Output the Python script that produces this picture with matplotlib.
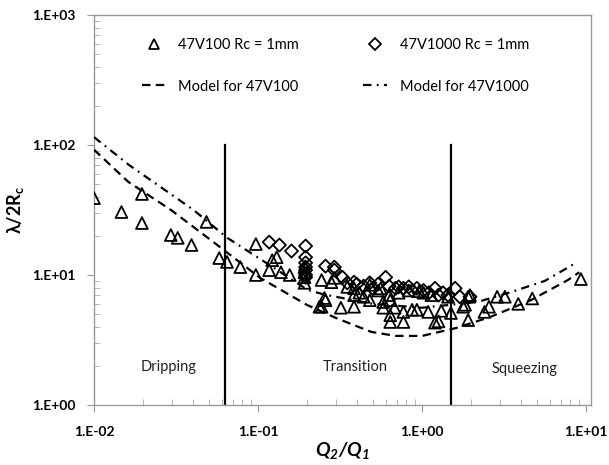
import math
import matplotlib
matplotlib.use("Agg")
import matplotlib.pyplot as plt
from matplotlib.lines import Line2D
from matplotlib.ticker import LogLocator, FuncFormatter, NullFormatter

plt.rcParams['font.family'] = ['Lato', 'DejaVu Sans']

# 47V100 Rc = 1mm (triangles)
v100_x = [0.01, 0.0147, 0.0196, 0.0196, 0.0294, 0.0324, 0.0393, 0.0485, 0.058, 0.0647,
          0.078, 0.097, 0.097, 0.117, 0.122, 0.130, 0.138, 0.156, 0.192, 0.192,
          0.192, 0.192, 0.237, 0.244, 0.28, 0.244, 0.258, 0.254, 0.292, 0.32,
          0.385, 0.385, 0.385, 0.415, 0.48, 0.48, 0.56, 0.58, 0.58, 0.64,
          0.64, 0.64, 0.68, 0.77, 0.77, 0.87, 0.93, 0.96, 1.09, 1.2,
          1.26, 1.31, 1.5, 1.78, 1.83, 1.91, 1.91, 1.96, 2.4, 2.56,
          2.87, 3.2, 3.86, 4.7, 9.3, 0.54, 0.72, 0.83, 1.02, 1.14,
          1.44, 0.63, 0.44, 0.35]
v100_y = [39, 30.5, 42, 25.1, 20.3, 19.3, 17.0, 25.6, 13.5, 12.6,
          11.5, 17.3, 10.0, 10.9, 13.0, 13.7, 10.5, 10.0, 8.7, 9.6,
          10.5, 11.5, 5.7, 9.15, 8.8, 5.7, 6.4, 6.65, 9.5, 5.6,
          5.7, 7.9, 7.0, 7.3, 8.4, 6.4, 7.9, 6.2, 5.6, 6.4,
          4.9, 4.35, 5.6, 5.2, 4.35, 5.4, 5.4, 7.5, 5.2, 4.3,
          4.4, 5.3, 5.1, 5.7, 5.9, 4.5, 6.8, 7.0, 5.2, 5.7,
          6.8, 6.8, 6.0, 6.6, 9.3, 7.6, 7.3, 7.6, 7.3, 7.0,
          6.8, 7.0, 6.8, 8.1]

# 47V1000 Rc = 1mm (diamonds)
v1000_x = [0.117, 0.135, 0.16, 0.195, 0.195, 0.195, 0.195, 0.195, 0.195, 0.195,
           0.258, 0.292, 0.292, 0.327, 0.385, 0.48, 0.60, 0.69, 0.72, 0.77,
           0.83, 0.87, 0.93, 1.02, 1.2, 1.34, 1.59, 1.7, 1.96, 0.4,
           0.44, 0.54, 0.63, 0.5, 1.1, 1.26, 1.44, 0.35]
v1000_y = [17.9, 17.0, 15.3, 16.7, 13.7, 12.4, 11.5, 10.9, 10.0, 9.6,
           11.7, 11.5, 10.9, 9.6, 8.8, 8.7, 9.6, 7.9, 8.1, 7.9,
           8.1, 7.6, 7.9, 7.6, 7.9, 7.3, 7.9, 6.8, 6.8, 8.5,
           8.2, 8.5, 8.2, 7.9, 7.3, 7.0, 7.0, 8.7]

# model curves
model100_x = [0.01, 0.0162, 0.0295, 0.0565, 0.103, 0.198, 0.30, 0.49, 0.69, 1.0,
              1.6, 2.6, 4.6, 7.7, 9.1]
model100_y = [92, 52, 31.6, 17, 9.5, 5.9, 4.66, 3.65, 3.4, 3.4,
              3.9, 4.75, 6.4, 9.1, 10.5]
model1000_x = [0.01, 0.0164, 0.0405, 0.065, 0.123, 0.2, 0.25, 0.5, 1.0, 2.18,
               3.5, 5.6, 8.6]
model1000_y = [115, 70, 31.6, 19.3, 11.5, 7.7, 7.1, 6.0, 5.6, 6.2,
               7.4, 9.0, 12.3]

regime_bounds = [0.063, 1.5]
regime_labels = ["Dripping", "Transition", "Squeezing"]
regime_label_x = [0.0285, 0.39, 4.2]
regime_label_y = [1.95, 1.95, 1.9]

fig = plt.figure(figsize=(6.09, 4.65), dpi=100)
ax = fig.add_axes([94 / 609, 60 / 465, 497 / 609, 390 / 465])

ax.set_xscale('log')
ax.set_yscale('log')

for xb in regime_bounds:
    ax.plot([xb, xb], [1, 100], color='black', lw=1.6, zorder=2)

l100, = ax.plot(model100_x, model100_y, color='black', lw=1.6,
                linestyle=(0, (3.8, 2.4)), zorder=3)
l1000, = ax.plot(model1000_x, model1000_y, color='black', lw=1.6,
                 linestyle=(0, (3.8, 2.4, 0.8, 2.4)), zorder=3)

ax.scatter(v100_x, v100_y, marker='^', s=72, facecolors='none',
           edgecolors='black', linewidths=1.3, zorder=4)
ax.scatter(v1000_x, v1000_y, marker='D', s=44, facecolors='none',
           edgecolors='black', linewidths=1.3, zorder=4)

for lab, lx, ly in zip(regime_labels, regime_label_x, regime_label_y):
    ax.text(lx, ly, lab, ha='center', va='center', fontsize=10.5, color='#222222')

ax.set_xlim(0.01, 10.72)
ax.set_ylim(1, 1000)

fmt = FuncFormatter(lambda v, p: "1.E{:+03d}".format(int(round(math.log10(v)))))
ax.xaxis.set_major_locator(LogLocator(base=10, numticks=10))
ax.yaxis.set_major_locator(LogLocator(base=10, numticks=10))
ax.xaxis.set_major_formatter(fmt)
ax.yaxis.set_major_formatter(fmt)
ax.xaxis.set_minor_locator(LogLocator(base=10, subs=range(2, 10), numticks=20))
ax.yaxis.set_minor_locator(LogLocator(base=10, subs=range(2, 10), numticks=20))
ax.xaxis.set_minor_formatter(NullFormatter())
ax.yaxis.set_minor_formatter(NullFormatter())

ax.tick_params(which='major', direction='out', length=5, color='#999999',
               labelsize=10, labelfontfamily=['Lato', 'DejaVu Sans'])
ax.tick_params(axis='x', which='major', pad=10)
ax.tick_params(axis='y', which='major', pad=8)
ax.tick_params(which='minor', direction='in', length=4, color='#aaaaaa')
plt.setp(ax.get_xticklabels() + ax.get_yticklabels(), fontweight='bold')
for sp in ax.spines.values():
    sp.set_color('#999999')
    sp.set_linewidth(1.0)

ax.set_xlabel('Q$_\\mathregular{2}$/Q$_\\mathregular{1}$', fontsize=14,
              fontweight='bold', fontstyle='italic', labelpad=2)
ax.set_ylabel('λ/2R$_\\mathregular{c}$', fontsize=13, fontweight='bold')
ax.yaxis.set_label_coords(-0.136, 0.5)

h_tri = Line2D([], [], marker='^', linestyle='none', markerfacecolor='none',
               markeredgecolor='black', markersize=7.5, markeredgewidth=1.3)
h_dia = Line2D([], [], marker='D', linestyle='none', markerfacecolor='none',
               markeredgecolor='black', markersize=6, markeredgewidth=1.3)
ax.legend([h_tri, l100, h_dia, l1000],
          ["47V100 Rc = 1mm", "Model for 47V100", "47V1000 Rc = 1mm", "Model for 47V1000"],
          ncol=2, loc='upper left', bbox_to_anchor=(0.07, 0.975), frameon=False,
          fontsize=10.5, handlelength=1.6, handletextpad=0.9, labelspacing=1.9,
          columnspacing=4.4)

fig.savefig('out.png', dpi=100)
